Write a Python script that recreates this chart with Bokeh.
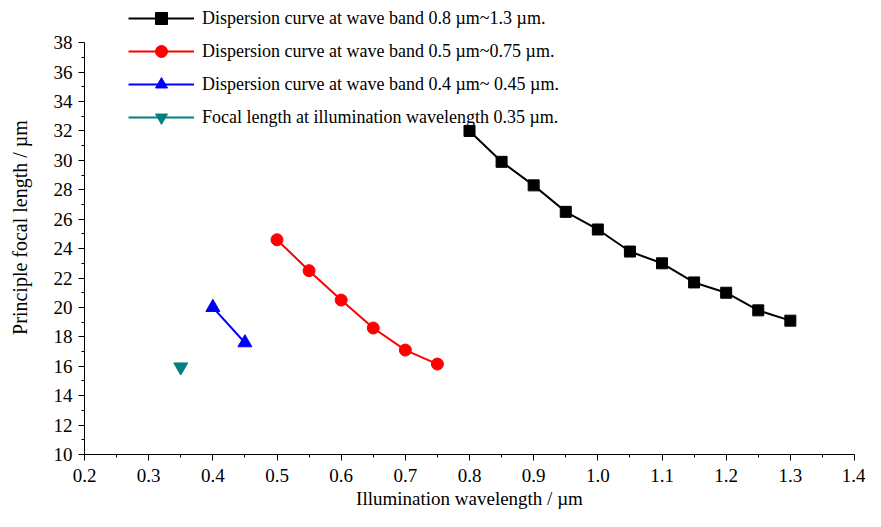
from bokeh.plotting import figure
from bokeh.embed import file_html
from bokeh.resources import INLINE
from bokeh.models import FixedTicker, Range1d, Legend, LegendItem, NumeralTickFormatter

# Data
x_nir = [0.8, 0.85, 0.9, 0.95, 1.0, 1.05, 1.1, 1.15, 1.2, 1.25, 1.3]
y_nir = [32.0, 29.9, 28.3, 26.5, 25.3, 23.8, 23.0, 21.7, 21.0, 19.8, 19.1]
x_vis = [0.5, 0.55, 0.6, 0.65, 0.7, 0.75]
y_vis = [24.6, 22.5, 20.5, 18.6, 17.1, 16.15]
x_blue = [0.4, 0.45]
y_blue = [20.0, 17.6]
x_uv = [0.35]
y_uv = [15.95]

x_ticks = [0.2, 0.3, 0.4, 0.5, 0.6, 0.7, 0.8, 0.9, 1.0, 1.1, 1.2, 1.3, 1.4]
y_ticks = [10, 12, 14, 16, 18, 20, 22, 24, 26, 28, 30, 32, 34, 36, 38]

labels = [
    "Dispersion curve at wave band 0.8 \u00b5m~1.3 \u00b5m.",
    "Dispersion curve at wave band 0.5 \u00b5m~0.75 \u00b5m.",
    "Dispersion curve at wave band 0.4 \u00b5m~ 0.45 \u00b5m.",
    "Focal length at illumination wavelength 0.35 \u00b5m.",
]

FONT = "Liberation Serif"

p = figure(width=865, height=511, output_backend="svg", toolbar_location=None,
           x_range=Range1d(0.2, 1.4), y_range=Range1d(10, 40.87),
           min_border_left=84, min_border_right=11, min_border_top=0, min_border_bottom=56)
p.outline_line_color = None
p.xgrid.grid_line_color = None
p.ygrid.grid_line_color = None

r1l = p.line(x_nir, y_nir, line_color="black", line_width=2)
r1m = p.scatter(x_nir, y_nir, marker="square", size=11, color="black")
r2l = p.line(x_vis, y_vis, line_color="#ff0000", line_width=2)
r2m = p.scatter(x_vis, y_vis, marker="circle", size=12, color="#ff0000")
r3l = p.line(x_blue, y_blue, line_color="#0000ff", line_width=2)
r3m = p.scatter(x_blue, y_blue, marker="triangle", size=14, color="#0000ff")
r4l = p.line(x_uv, y_uv, line_color="#008080", line_width=2)
r4m = p.scatter(x_uv, y_uv, marker="inverted_triangle", size=14, color="#008080")

legend = Legend(items=[
    LegendItem(label=labels[0], renderers=[r1l, r1m]),
    LegendItem(label=labels[1], renderers=[r2l, r2m]),
    LegendItem(label=labels[2], renderers=[r3l, r3m]),
    LegendItem(label=labels[3], renderers=[r4l, r4m]),
], location=(44, 322))
legend.background_fill_alpha = 0
legend.border_line_color = None
legend.padding = 0
legend.margin = 0
legend.spacing = 3
legend.glyph_width = 66
legend.glyph_height = 30
legend.label_height = 30
legend.label_standoff = 8
legend.label_text_font = FONT
legend.label_text_font_size = "18px"
legend.label_text_color = "black"
p.add_layout(legend, "center")

for ax in (p.xaxis[0], p.yaxis[0]):
    ax.axis_line_color = "black"
    ax.axis_line_width = 1
    ax.major_tick_line_color = "black"
    ax.minor_tick_line_color = "black"
    ax.major_tick_out = 6
    ax.major_tick_in = 0
    ax.minor_tick_out = 3
    ax.minor_tick_in = 0
    ax.major_label_text_font = FONT
    ax.major_label_text_font_size = "19px"
    ax.major_label_text_color = "black"
    ax.axis_label_text_font = FONT
    ax.axis_label_text_font_style = "normal"
    ax.axis_label_text_color = "black"

p.xaxis.axis_label_text_font_size = "19px"
p.yaxis.axis_label_text_font_size = "20px"
p.yaxis.bounds = (10, 38)
p.xaxis.ticker = FixedTicker(ticks=x_ticks, minor_ticks=[t + 0.05 for t in x_ticks[:-1]])
p.yaxis.ticker = FixedTicker(ticks=y_ticks, minor_ticks=[t + 1 for t in y_ticks[:-1]])
p.xaxis.formatter = NumeralTickFormatter(format="0.0")
p.xaxis.axis_label = "Illumination wavelength / \u00b5m"
p.yaxis.axis_label = "Principle focal length / \u00b5m"
p.xaxis.major_label_standoff = 8
p.yaxis.major_label_standoff = 6
p.xaxis.axis_label_standoff = 3
p.yaxis.axis_label_standoff = 20

open("out.html", "w").write(file_html(p, INLINE))
